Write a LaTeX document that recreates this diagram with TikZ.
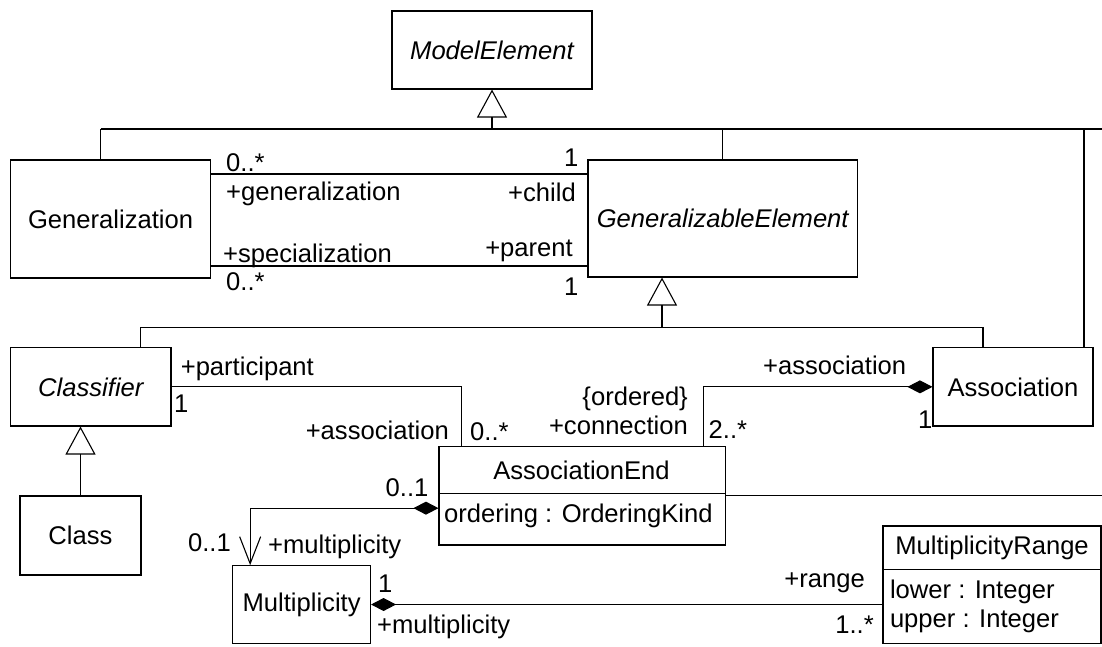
\documentclass[tikz,border=0pt]{standalone}
\usepackage{fontspec}
\setmainfont{Liberation Sans}
\usetikzlibrary{arrows.meta}
\begin{document}
\begin{tikzpicture}[x=1pt,y=-1pt,
  every node/.style={font=\fontsize{25.6}{30}\selectfont},
  umlbox/.style={draw, line width=1.1pt, inner sep=0pt, align=center},
  role/.style={inner sep=0pt},
  link/.style={line width=1.1pt},
  inherit/.style={link, -{Triangle[open,length=28pt,width=30pt]}},
  compo/.style={link, {Diamond[length=25pt,width=13pt]}-},
  navcompo/.style={link, {Diamond[length=25pt,width=13pt]}-{Straight Barb[length=27pt,width=21pt]}}
]
\useasboundingbox (0,0) rectangle (1102,646);

% classes
\node[umlbox, minimum width=200pt, minimum height=78pt] (me) at (492,50) {\itshape ModelElement};
\node[umlbox, minimum width=199.8pt, minimum height=118pt] (gen) at (110.6,219) {Generalization};
\node[umlbox, minimum width=269.4pt, minimum height=117pt] (ge) at (722.7,218.5) {\itshape GeneralizableElement};
\node[umlbox, minimum width=160.3pt, minimum height=78.3pt] (cls) at (90.85,386.85) {\itshape Classifier};
\node[umlbox, minimum width=160pt, minimum height=78.3pt] (assoc) at (1013,386.85) {Association};
\node[umlbox, minimum width=121pt, minimum height=79pt] (class) at (80.5,535.5) {Class};
\node[umlbox, minimum width=137.8pt, minimum height=77.6pt] (mult) at (301.6,604.5) {Multiplicity};

% AssociationEnd with one attribute compartment
\node[umlbox, minimum width=286.4pt, minimum height=98.3pt] (ae) at (582.2,495.85) {};
\node[role] (aeName) at (581.5,470) {AssociationEnd};
\node[role, anchor=base west] (aeAttr) at (444,522) {ordering : OrderingKind};
\draw[link] (ae.west |- 0,493.5) -- (ae.east |- 0,493.5);

% MultiplicityRange with two attributes
\node[umlbox, minimum width=218pt, minimum height=117.3pt] (mr) at (992,584.65) {};
\node[role] (mrName) at (992,547.7) {MultiplicityRange};
\node[role, anchor=base west] (mrLow) at (889.8,598) {lower : Integer};
\node[role, anchor=base west] (mrUp) at (889.8,627) {upper : Integer};
\draw[link] (mr.west |- 0,569.3) -- (mr.east |- 0,569.3);

% generalization tree under ModelElement
\coordinate (busA) at (100.6,129);
\coordinate (busB) at (1102,129);
\draw[inherit] (me.south |- busA) -- (me.south);
\draw[link] (busA) -- (busB);
\draw[link] (busA) -- (busA |- gen.north);
\draw[link] (ge.north |- busA) -- (ge.north);
\draw[link] (1084,129) coordinate (dropA) -- (dropA |- assoc.north);

% generalization tree under GeneralizableElement
\coordinate (busC) at (140.5,327.3);
\coordinate (busD) at (983,327.3);
\coordinate (hubG) at (662,327.3);
\draw[inherit] (hubG) -- (hubG |- ge.south);
\draw[link] (busC |- cls.north) -- (busC) -- (busD) -- (busD |- assoc.north);

% Class specializes Classifier
\draw[inherit] (class.north) -- (class.north |- cls.south);

% associations between Generalization and GeneralizableElement
\draw[link] (gen.east |- 0,174) -- (ge.west |- 0,174);
\draw[link] (gen.east |- 0,266) -- (ge.west |- 0,266);

% Classifier -- AssociationEnd
\draw[link] (cls.east) -| ([xshift=23pt]ae.north west);
% Association <>-- AssociationEnd
\draw[compo] (assoc.west) -| ([xshift=-22.9pt]ae.north east);
% AssociationEnd <>--> Multiplicity
\draw[navcompo] ([yshift=-12.3pt]ae.west) -| ([xshift=18pt]mult.north west);
% Multiplicity <>-- MultiplicityRange
\draw[compo] (mult.east) -- (mr.west |- mult.east);
% AssociationEnd -- (continues to the right)
\coordinate (aeOut) at (1102,495.85);
\draw[link] (ae.east) -- (aeOut);

% role names and multiplicities
\node[role, anchor=base west] (m1) at (226,171.5) {0..*};
\node[role, anchor=base west] (r1) at (226,200) {+generalization};
\node[role, anchor=base west] (m2) at (564,166.7) {1};
\node[role, anchor=base east] (r2) at (576,201.7) {+child};
\node[role, anchor=base west] (r3) at (223,262.5) {+specialization};
\node[role, anchor=base east] (r4) at (573,256.7) {+parent};
\node[role, anchor=base west] (m3) at (226,290) {0..*};
\node[role, anchor=base west] (m4) at (564,295) {1};

\node[role, anchor=base west] (r5) at (180.6,375) {+participant};
\node[role, anchor=base west] (m5) at (174,412) {1};
\node[role, anchor=base east] (r6) at (449,439) {+association};
\node[role, anchor=base west] (m6) at (470,440) {0..*};

\node[role, anchor=base east] (c1) at (688,405) {\{ordered\}};
\node[role, anchor=base east] (r7) at (688,434) {+connection};
\node[role, anchor=base west] (m7) at (708.5,438) {2..*};
\node[role, anchor=base west] (r8) at (763,374) {+association};
\node[role, anchor=base west] (m8) at (918,428) {1};

\node[role, anchor=base east] (m9) at (428.6,496) {0..1};
\node[role, anchor=base east] (m10) at (231,551) {0..1};
\node[role, anchor=base west] (r9) at (268,553) {+multiplicity};
\node[role, anchor=base west] (m11) at (378,592) {1};
\node[role, anchor=base west] (r10) at (377,633) {+multiplicity};
\node[role, anchor=base east] (r11) at (865,587) {+range};
\node[role, anchor=base east] (m12) at (874,633) {1..*};
\end{tikzpicture}
\end{document}
